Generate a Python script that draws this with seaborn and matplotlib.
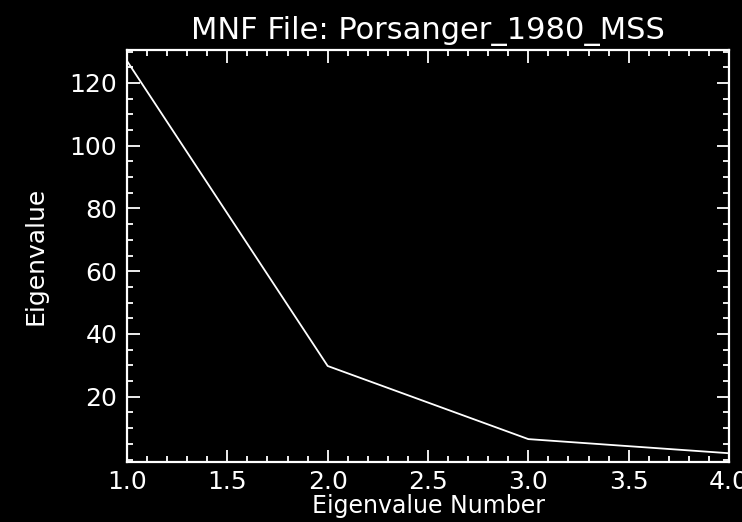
"""MNF eigenvalue plot for Porsanger_1980_MSS, IDL-style black background."""

import matplotlib

matplotlib.use("Agg")
import matplotlib.pyplot as plt
import pandas as pd
import seaborn as sns
from matplotlib.ticker import FormatStrFormatter, MultipleLocator

TITLE = "MNF File: Porsanger_1980_MSS"
X_LABEL = "Eigenvalue Number"
Y_LABEL = "Eigenvalue"

eigen_number = [1.0, 2.0, 3.0, 4.0]
eigen_value = [127.0, 29.8, 6.5, 2.0]

FG = "white"
BG = "black"

sns.set_theme(
    style="ticks",
    rc={
        "figure.facecolor": BG,
        "axes.facecolor": BG,
        "axes.edgecolor": FG,
        "axes.labelcolor": FG,
        "text.color": FG,
        "xtick.color": FG,
        "ytick.color": FG,
        "axes.linewidth": 1.6,
    },
)
plt.rcParams["font.family"] = ["DejaVu Sans"]


def main() -> None:
    df = pd.DataFrame({"number": eigen_number, "value": eigen_value})

    fig = plt.figure(figsize=(7.42, 5.22), dpi=100)
    ax = fig.add_axes([0.1712, 0.1149, 0.8113, 0.7893])

    sns.lineplot(data=df, x="number", y="value", ax=ax, color=FG, linewidth=1.3)

    ax.set_xlim(1.0, 4.0)
    ax.set_ylim(-0.8, 130.5)
    ax.xaxis.set_major_locator(MultipleLocator(0.5))
    ax.xaxis.set_minor_locator(MultipleLocator(0.1))
    ax.yaxis.set_major_locator(MultipleLocator(20))
    ax.yaxis.set_minor_locator(MultipleLocator(5))
    ax.set_yticks([20, 40, 60, 80, 100, 120])
    ax.xaxis.set_major_formatter(FormatStrFormatter("%.1f"))

    for side in ["top", "right"]:
        ax.spines[side].set_visible(True)
    ax.tick_params(which="both", direction="in", top=True, right=True,
                   width=1.3, labelsize=18)
    ax.tick_params(which="major", length=9)
    ax.tick_params(which="minor", length=4.5)
    ax.tick_params(axis="x", which="major", pad=6)
    ax.tick_params(axis="y", which="major", pad=7)

    ax.set_title(TITLE, fontsize=22, pad=8, color=FG)
    ax.set_xlabel(X_LABEL, fontsize=17, labelpad=0)
    ax.set_ylabel(Y_LABEL, fontsize=18, labelpad=16)

    fig.savefig("out.png", dpi=100, facecolor=BG)
    plt.close(fig)


if __name__ == "__main__":
    main()
